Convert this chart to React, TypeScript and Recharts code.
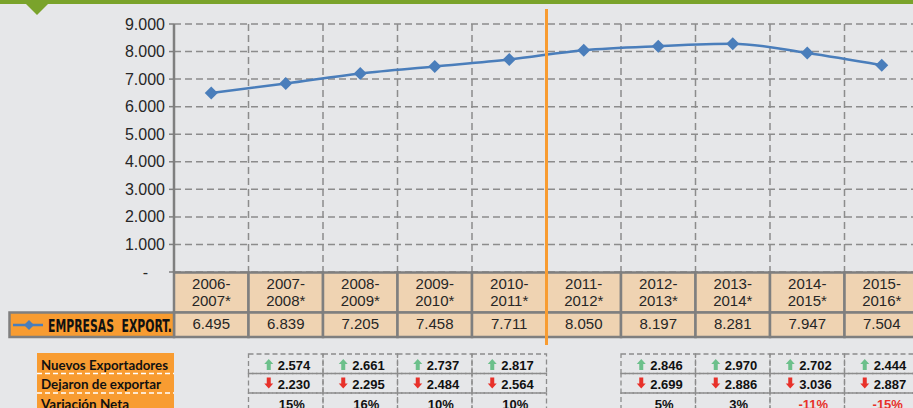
import React from 'react';
import { LineChart, Line, XAxis, YAxis, CartesianGrid } from 'recharts';

// periods on the x axis
const periods = [
  '2006-2007*', '2007-2008*', '2008-2009*', '2009-2010*', '2010-2011*',
  '2011-2012*', '2012-2013*', '2013-2014*', '2014-2015*', '2015-2016*',
];
const empresas = [6495, 6839, 7205, 7458, 7711, 8050, 8197, 8281, 7947, 7504];
const nuevos = [null, 2574, 2661, 2737, 2817, null, 2846, 2970, 2702, 2444];
const dejaron = [null, 2230, 2295, 2484, 2564, null, 2699, 2886, 3036, 2887];
const variacion = [null, 15, 16, 10, 10, null, 5, 3, -11, -15];
const yTicks = [0, 1000, 2000, 3000, 4000, 5000, 6000, 7000, 8000, 9000];
const rowLabels = ['Nuevos Exportadores', 'Dejaron de exportar', 'Variación Neta'];
const seriesName = 'EMPRESAS  EXPORT.';
const splitIndex = 5; // orange divider sits before this period

const chartData = periods.map((p, i) => ({ period: p, empresas: empresas[i] }));

const W = 920;
const H = 408;
const LEFT = 174;
const TOP = 24;
const RIGHT = 1;
const X_AXIS_H = 136;
const PLOT_W = W - LEFT - RIGHT;
const PLOT_BOTTOM = H - X_AXIS_H;
const BAND = PLOT_W / periods.length;

const BG = '#e6e7e9';
const TAN = '#efd3b2';
const BORDER = '#7f7f7f';
const ORANGE = '#f89c31';
const BLUE = '#4a7ebb';
const GRID = '#8c8c8c';
const UP = '#6cc08b';
const DOWN = '#e8312a';
const TEXT = '#262626';
const FONT = '"Liberation Sans", Arial, sans-serif';

const fmt = (v: number) => String(Math.abs(v)).replace(/\B(?=(\d{3})+(?!\d))/g, '.');

const Diamond = (props: any) => {
  const { cx, cy } = props;
  if (cx == null || cy == null) return null;
  const r = 6.5;
  return (
    <polygon
      points={`${cx},${cy - r} ${cx + r},${cy} ${cx},${cy + r} ${cx - r},${cy}`}
      fill={BLUE}
    />
  );
};

const YTick = (props: any) => {
  const { x, y, payload } = props;
  const v = payload.value as number;
  return (
    <text
      x={v === 0 ? x - 17 : x}
      y={y}
      dy={5.5}
      textAnchor="end"
      fontSize={16}
      fontFamily={FONT}
      fill={TEXT}
    >
      {v === 0 ? '-' : fmt(v)}
    </text>
  );
};

const UpArrow = ({ cx, top }: { cx: number; top: number }) => (
  <polygon
    points={`${cx},${top} ${cx + 4.5},${top + 5} ${cx + 2},${top + 5} ${cx + 2},${top + 11} ${cx - 2},${top + 11} ${cx - 2},${top + 5} ${cx - 4.5},${top + 5}`}
    fill={UP}
  />
);

const DownArrow = ({ cx, top }: { cx: number; top: number }) => (
  <polygon
    points={`${cx - 2},${top} ${cx + 2},${top} ${cx + 2},${top + 6} ${cx + 4.5},${top + 6} ${cx},${top + 11} ${cx - 4.5},${top + 6} ${cx - 2},${top + 6}`}
    fill={DOWN}
  />
);

// each tick draws its whole column of the table below the plot
const PeriodTick = (props: any) => {
  const { x, index } = props;
  const left = x - BAND / 2;
  const label = periods[index];
  const dash = label.indexOf('-');
  const line1 = label.slice(0, dash + 1);
  const line2 = label.slice(dash + 1);
  const n = nuevos[index];
  const d = dejaron[index];
  const v = variacion[index];
  const top = PLOT_BOTTOM + 0.5;
  return (
    <g>
      <rect x={left} y={top} width={BAND} height={40} fill={TAN} stroke={BORDER} strokeWidth={2.5} />
      <rect x={left} y={top + 40} width={BAND} height={24.5} fill={TAN} stroke={BORDER} strokeWidth={2.5} />
      <text x={x} y={top + 16.5} textAnchor="middle" fontSize={15} fontFamily={FONT} fill={TEXT}>
        {line1}
      </text>
      <text x={x} y={top + 33.5} textAnchor="middle" fontSize={15} fontFamily={FONT} fill={TEXT}>
        {line2}
      </text>
      <text x={x} y={top + 56.5} textAnchor="middle" fontSize={15} fontFamily={FONT} fill={TEXT}>
        {fmt(empresas[index])}
      </text>
      {n != null && d != null && v != null && (
        <g>
          <rect x={left} y={354} width={BAND} height={19.5} fill="none" stroke={GRID} strokeWidth={1.3} strokeDasharray="5 3" />
          <rect x={left} y={373.5} width={BAND} height={19.5} fill="none" stroke={GRID} strokeWidth={1.3} strokeDasharray="5 3" />
          <rect x={left} y={393} width={BAND} height={30} fill="none" stroke={GRID} strokeWidth={1.3} strokeDasharray="5 3" />
          <UpArrow cx={x - 17} top={359} />
          <text x={x - 8} y={369.5} fontSize={13} fontWeight="bold" fontFamily={FONT} fill="#111">
            {fmt(n)}
          </text>
          <DownArrow cx={x - 17} top={377.5} />
          <text x={x - 8} y={388.5} fontSize={13} fontWeight="bold" fontFamily={FONT} fill="#111">
            {fmt(d)}
          </text>
          <text x={x + 6} y={409} textAnchor="middle" fontSize={13} fontWeight="bold" fontFamily={FONT} fill={v < 0 ? DOWN : '#111'}>
            {(v < 0 ? '-' : '') + Math.abs(v) + '%'}
          </text>
        </g>
      )}
      {index === splitIndex && (
        <line x1={left} x2={left} y1={9} y2={345} stroke={ORANGE} strokeWidth={3} />
      )}
    </g>
  );
};

const App: React.FC = () => {
  return (
    <div style={{ position: 'absolute', left: 0, top: 0, width: 913, height: 408, overflow: 'hidden', background: BG }}>
      <LineChart
        width={W}
        height={H}
        data={chartData}
        margin={{ top: TOP, right: RIGHT, left: 0, bottom: 0 }}
      >
        <CartesianGrid
          stroke={GRID}
          strokeWidth={1.5}
          strokeDasharray="7 4"
          verticalCoordinatesGenerator={(p: any) => {
            const l = p && p.offset ? p.offset.left : LEFT;
            const w = p && p.offset ? p.offset.width : PLOT_W;
            return periods.map((_, i) => l + (i * w) / periods.length).concat([l + w]);
          }}
        />
        <XAxis
          dataKey="period"
          scale="band"
          height={X_AXIS_H}
          interval={0}
          axisLine={false}
          tickLine={false}
          tick={<PeriodTick />}
        />
        <YAxis
          width={LEFT}
          domain={[0, 9000]}
          ticks={yTicks}
          interval={0}
          tickSize={5}
          tickMargin={4}
          axisLine={{ stroke: BORDER, strokeWidth: 2.5 }}
          tickLine={{ stroke: BORDER, strokeWidth: 1.5 }}
          tick={<YTick />}
        />
        <Line
          type="monotone"
          dataKey="empresas"
          stroke={BLUE}
          strokeWidth={2.5}
          dot={<Diamond />}
          activeDot={false}
          isAnimationActive={false}
        />
      </LineChart>

      <svg width={913} height={408} style={{ position: 'absolute', left: 0, top: 0 }}>
        <rect x={0} y={0} width={913} height={4} fill="#7aa32b" />
        <polygon points="26,4 48,4 37,15" fill="#7aa32b" />

        <rect x={9.5} y={312.5} width={164.5} height={24.5} fill={ORANGE} stroke={BORDER} strokeWidth={2.5} />
        <line x1={13} x2={43} y1={325} y2={325} stroke={BLUE} strokeWidth={2.5} />
        <polygon points="29,320 34,325 29,330 24,325" fill={BLUE} />
        <text
          x={48}
          y={331.5}
          fontSize={18}
          fontWeight="bold"
          fontFamily='"Liberation Sans Narrow", "DejaVu Sans Condensed", sans-serif'
          fill="#111"
          textLength={124}
          lengthAdjust="spacingAndGlyphs"
          style={{ whiteSpace: 'pre' }}
        >
          {seriesName}
        </text>

        <rect x={37} y={353} width={137} height={60} fill={ORANGE} />
        <line x1={37} x2={174} y1={373.5} y2={373.5} stroke="#fff" strokeWidth={1.3} strokeDasharray="5 3" />
        <line x1={37} x2={174} y1={393} y2={393} stroke="#fff" strokeWidth={1.3} strokeDasharray="5 3" />
        <text x={41} y={370} fontSize={14} fontWeight="bold" fontFamily="Lato, sans-serif" fill="#111" textLength={127} lengthAdjust="spacingAndGlyphs">
          {rowLabels[0]}
        </text>
        <text x={41} y={389} fontSize={14} fontWeight="bold" fontFamily="Lato, sans-serif" fill="#111" textLength={120} lengthAdjust="spacingAndGlyphs">
          {rowLabels[1]}
        </text>
        <text x={41} y={409} fontSize={14} fontWeight="bold" fontFamily="Lato, sans-serif" fill="#111" textLength={88} lengthAdjust="spacingAndGlyphs">
          {rowLabels[2]}
        </text>
      </svg>
    </div>
  );
};

export default App;
